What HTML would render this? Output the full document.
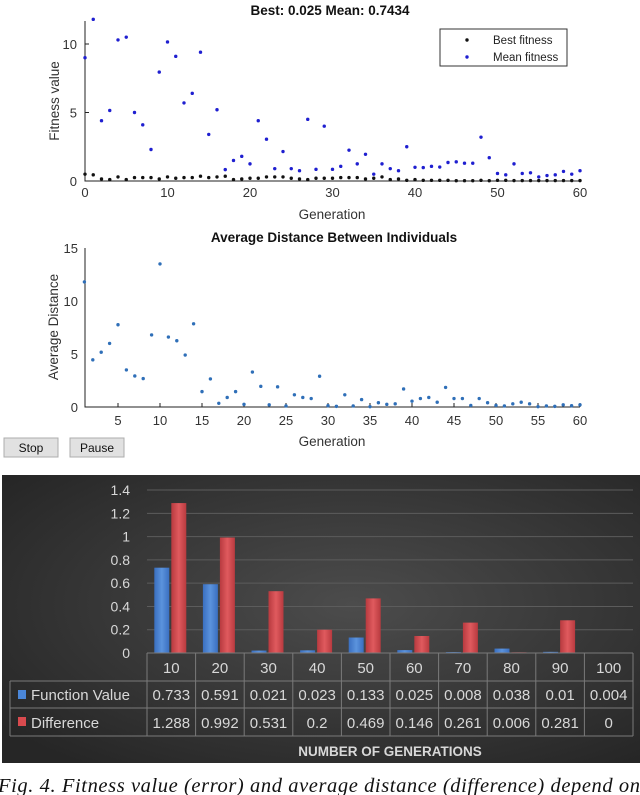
<!DOCTYPE html>
<html><head><meta charset="utf-8">
<style>
html,body{margin:0;padding:0;background:#fff;}
svg{display:block;}
text{font-family:"Liberation Sans",sans-serif;}
</style></head>
<body>
<svg id="svg" width="640" height="795" viewBox="0 0 640 795" xmlns="http://www.w3.org/2000/svg">
<defs>
<radialGradient id="bg" cx="0.55" cy="0.45" r="0.7">
<stop offset="0" stop-color="#4c4c4c"/><stop offset="1" stop-color="#262626"/>
</radialGradient>
<linearGradient id="gb" x1="0" x2="1"><stop offset="0" stop-color="#3a6fc0"/><stop offset="0.5" stop-color="#5b93dd"/><stop offset="1" stop-color="#3a6fc0"/></linearGradient>
<linearGradient id="gr" x1="0" x2="1"><stop offset="0" stop-color="#b83a3f"/><stop offset="0.5" stop-color="#e05a5e"/><stop offset="1" stop-color="#b83a3f"/></linearGradient>
</defs>
<g id="top"></g>
<g id="mid"></g>
<g id="bot"></g>
<text x="-2" y="792" font-size="20.5" font-style="italic" fill="#111" style="font-family:'Liberation Serif',serif" textLength="642">Fig. 4. Fitness value (error) and average distance (difference) depend on</text>
</svg>
<script>
const meanFitness=[9.0,11.8,4.4,5.15,10.3,10.5,5.0,4.1,2.3,7.95,10.15,9.1,5.7,6.4,9.4,3.4,5.2,0.83,1.5,1.8,1.25,4.4,3.05,0.9,2.15,0.9,0.75,4.5,0.85,4.0,0.85,1.07,2.25,1.25,1.95,0.5,1.25,0.9,0.75,2.5,1.0,0.98,1.07,1.02,1.35,1.4,1.3,1.3,3.2,1.7,0.55,0.45,1.25,0.55,0.6,0.3,0.4,0.45,0.7,0.5,0.75];
const bestFitness=[0.5,0.45,0.15,0.1,0.3,0.1,0.25,0.25,0.25,0.15,0.3,0.2,0.25,0.25,0.35,0.25,0.3,0.35,0.1,0.15,0.2,0.2,0.3,0.3,0.3,0.2,0.15,0.1,0.2,0.2,0.2,0.25,0.25,0.25,0.15,0.2,0.3,0.1,0.15,0.05,0.1,0.05,0.05,0.05,0.05,0.02,0.02,0.02,0.05,0.02,0.05,0.05,0.03,0.03,0.03,0.03,0.03,0.03,0.03,0.03,0.03];
const avgDistance=[11.8,4.45,5.17,6.0,7.76,3.5,2.93,2.68,6.8,13.5,6.6,6.25,4.9,7.85,1.45,2.65,0.35,0.9,1.45,0.25,3.3,1.95,0.2,1.9,0.1,1.15,0.9,0.8,2.9,0.12,0.06,1.15,0.1,0.7,0.03,0.4,0.25,0.3,1.7,0.55,0.8,0.9,0.45,1.85,0.8,0.8,0.15,0.8,0.4,0.15,0.1,0.3,0.45,0.3,0.03,0.1,0.06,0.2,0.12,0.2];
const generations=["10","20","30","40","50","60","70","80","90","100"];
const functionValue=[0.733,0.591,0.021,0.023,0.133,0.025,0.008,0.038,0.01,0.004];
const difference=[1.288,0.992,0.531,0.2,0.469,0.146,0.261,0.006,0.281,0];
const topXTicks=[0,10,20,30,40,50,60];
const topYTicks=[0,5,10];
const midXTicks=[5,10,15,20,25,30,35,40,45,50,55,60];
const midYTicks=[0,5,10,15];
const barYTicks=[0,0.2,0.4,0.6,0.8,1,1.2,1.4];
const barYLabels=["0","0.2","0.4","0.6","0.8","1","1.2","1.4"];

const NS="http://www.w3.org/2000/svg";
function mk(parent,tag,attrs,txt){const e=document.createElementNS(NS,tag);for(const k in attrs)e.setAttribute(k,attrs[k]);if(txt!==undefined)e.textContent=txt;parent.appendChild(e);return e;}

// ---- top plot
const T=document.getElementById('top');
const tx=g=>85+g*8.25, ty=v=>181-v*13.7;
let e;
e=mk(T,'text',{x:330,y:15,'font-size':13.5,'font-weight':'bold','text-anchor':'middle',fill:'#111'},'Best: 0.025 Mean: 0.7434');

e=mk(T,'path',{d:'M85 21 V181 H580',stroke:'#222',fill:'none','stroke-width':1});

topXTicks.forEach(t=>{e=mk(T,'text',{x:tx(t),y:197,'font-size':13,'text-anchor':'middle',fill:'#333'},String(t));
});
topYTicks.forEach(t=>{e=mk(T,'text',{x:77,y:ty(t)+5,'font-size':13,'text-anchor':'end',fill:'#333'},String(t));

mk(T,'line',{x1:85,x2:89,y1:ty(t),y2:ty(t),stroke:'#222'});});
e=mk(T,'text',{x:332,y:219,'font-size':13.5,'text-anchor':'middle',fill:'#333'},'Generation');

e=mk(T,'text',{x:0,y:0,'font-size':13.5,'text-anchor':'middle',fill:'#333',transform:'translate(59,101) rotate(-90)'},'Fitness value');

meanFitness.forEach((v,i)=>{e=mk(T,'circle',{cx:tx(i),cy:ty(v),r:1.7,fill:'#1f1fd0'});
});
bestFitness.forEach((v,i)=>{e=mk(T,'circle',{cx:tx(i),cy:ty(v),r:1.7,fill:'#111'});
});
e=mk(T,'g',{});
mk(e,'rect',{x:440,y:29,width:127,height:37,fill:'#fff',stroke:'#333'});
mk(e,'circle',{cx:467,cy:40,r:1.7,fill:'#111'});mk(e,'circle',{cx:467,cy:57,r:1.7,fill:'#1f1fd0'});
mk(e,'text',{x:493,y:44,'font-size':11.5,fill:'#222'},'Best fitness');
mk(e,'text',{x:493,y:61,'font-size':11.5,fill:'#222'},'Mean fitness');

// ---- middle plot
const M=document.getElementById('mid');
const mx=g=>84.4+(g-1)*8.4, my=v=>407-v*10.6;
e=mk(M,'text',{x:334,y:242,'font-size':13.5,'font-weight':'bold','text-anchor':'middle',fill:'#111'},'Average Distance Between Individuals');

e=mk(M,'path',{d:'M85 248 V407 H580',stroke:'#222',fill:'none'});

midXTicks.forEach(t=>{e=mk(M,'text',{x:mx(t),y:425,'font-size':13,'text-anchor':'middle',fill:'#333'},String(t));

mk(M,'line',{x1:mx(t),x2:mx(t),y1:407,y2:403,stroke:'#222'});});
midYTicks.forEach(t=>{e=mk(M,'text',{x:78,y:my(t)+5,'font-size':13,'text-anchor':'end',fill:'#333'},String(t));
});
e=mk(M,'text',{x:332,y:446,'font-size':13.5,'text-anchor':'middle',fill:'#333'},'Generation');

e=mk(M,'text',{x:0,y:0,'font-size':13.5,'text-anchor':'middle',fill:'#333',transform:'translate(58,327) rotate(-90)'},'Average Distance');

avgDistance.forEach((v,i)=>{e=mk(M,'circle',{cx:mx(i+1),cy:my(v),r:1.7,fill:'#2f6fb8'});
});
[['Stop',4,54,'stop-button'],['Pause',70,54,'pause-button']].forEach(b=>{
e=mk(M,'g',{});
mk(e,'rect',{x:b[1],y:438,width:b[2],height:19,fill:'#e1e1e1',stroke:'#adadad'});
mk(e,'text',{x:b[1]+b[2]/2,y:452,'font-size':12,'text-anchor':'middle',fill:'#111'},b[0]);});

// ---- bottom bar chart
const B=document.getElementById('bot');
e=mk(B,'rect',{x:2,y:475,width:638,height:288,fill:'url(#bg)'});

const by=v=>653-v*116.4, colW=48.6, cx0=147;
barYTicks.forEach((t,i)=>{mk(B,'line',{x1:147,x2:633,y1:by(t),y2:by(t),stroke:'#5c5c5c'});
e=mk(B,'text',{x:130,y:by(t)+5,'font-size':14,'text-anchor':'end',fill:'#d8d8d8'},barYLabels[i]);
});
generations.forEach((g,i)=>{const c=cx0+colW*i+colW/2;
if(functionValue[i]>0){e=mk(B,'rect',{x:c-17,y:by(functionValue[i]),width:15,height:functionValue[i]*116.4,fill:'url(#gb)'});
}
if(difference[i]>0){e=mk(B,'rect',{x:c,y:by(difference[i]),width:15,height:difference[i]*116.4,fill:'url(#gr)'});
}
});
// table
const tb=mk(B,'g',{});
const lc='#7a7a7a';
mk(tb,'line',{x1:147,x2:633,y1:653,y2:653,stroke:lc});
mk(tb,'line',{x1:10,x2:633,y1:681,y2:681,stroke:lc});
mk(tb,'line',{x1:10,x2:633,y1:708,y2:708,stroke:lc});
mk(tb,'line',{x1:10,x2:633,y1:736,y2:736,stroke:lc});
mk(tb,'line',{x1:10,x2:10,y1:681,y2:736,stroke:lc});
for(let i=0;i<=10;i++){mk(tb,'line',{x1:cx0+colW*i,x2:cx0+colW*i,y1:653,y2:736,stroke:lc});}
generations.forEach((g,i)=>{const c=cx0+colW*i+colW/2;
e=mk(tb,'text',{x:c,y:673,'font-size':15,'text-anchor':'middle',fill:'#d8d8d8'},g);

e=mk(tb,'text',{x:c,y:700,'font-size':15,'text-anchor':'middle',fill:'#d8d8d8'},String(functionValue[i]));

e=mk(tb,'text',{x:c,y:728,'font-size':15,'text-anchor':'middle',fill:'#d8d8d8'},String(difference[i]));
});
mk(tb,'rect',{x:18,y:690,width:8,height:9,fill:'#4a86d8'});
mk(tb,'rect',{x:18,y:717,width:8,height:9,fill:'#d84a4e'});
e=mk(tb,'text',{x:31,y:700,'font-size':15,fill:'#d8d8d8'},'Function Value');

e=mk(tb,'text',{x:31,y:728,'font-size':15,fill:'#d8d8d8'},'Difference');

e=mk(B,'text',{x:390,y:756,'font-size':13.5,'font-weight':'bold','text-anchor':'middle',fill:'#d8d8d8'},'NUMBER OF GENERATIONS');

</script>
</body></html>
